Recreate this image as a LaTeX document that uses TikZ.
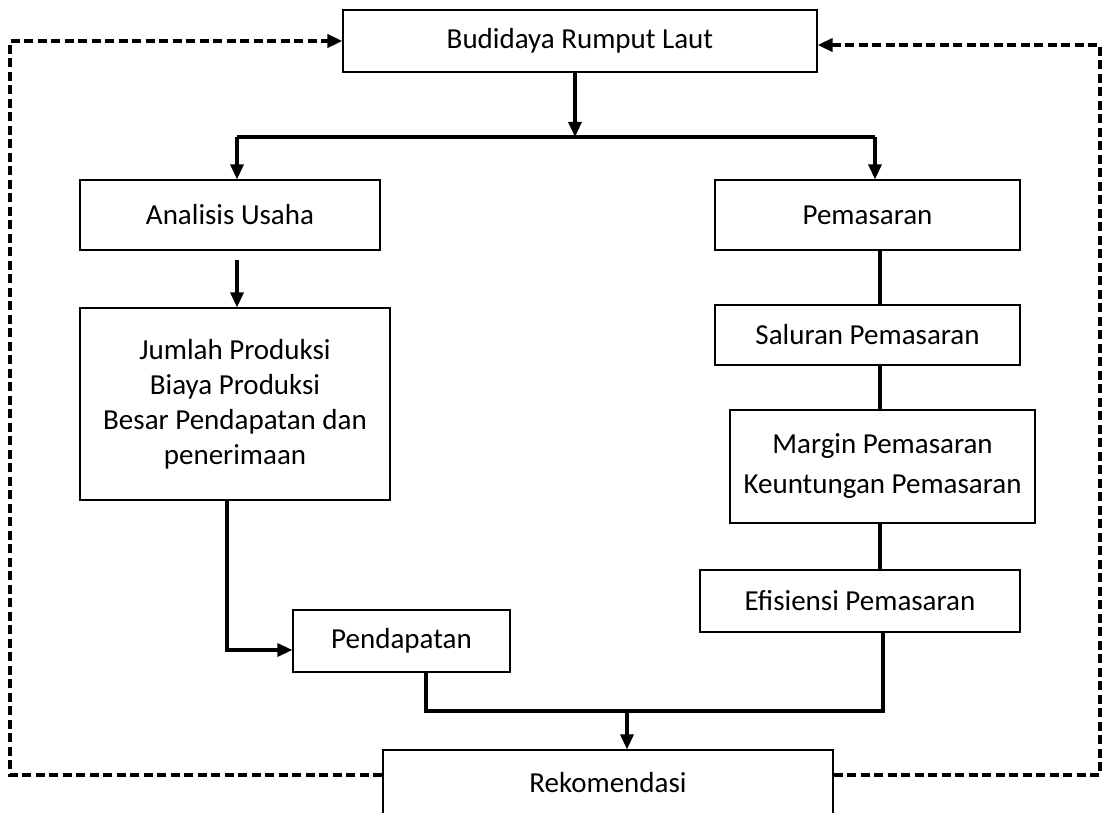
\documentclass[tikz,border=0pt]{standalone}
\usepackage{fontspec}
\setmainfont{Carlito}
\usetikzlibrary{arrows.meta}
\begin{document}
\begin{tikzpicture}[x=1pt,y=-1pt,
  box/.style={draw,line width=1.2pt,rectangle,align=center,inner sep=0pt,
    font=\fontsize{29}{35}\selectfont},
  conn/.style={line width=3.2pt},
  tip/.style={-{Triangle[length=15pt,width=13pt]}},
  feedback/.style={line width=3.6pt,dash pattern=on 9pt off 4.5pt}]
\useasboundingbox (0,0) rectangle (1108,813);
\clip (0,0) rectangle (1108,813);
\node[box,minimum width=474,minimum height=62] (bud) at (580,41) {Budidaya Rumput Laut};
\node[box,minimum width=300,minimum height=70] (ana) at (230,215) {Analisis Usaha};
\node[box,minimum width=305,minimum height=70] (pem) at (867.5,215) {Pemasaran};
\node[box,minimum width=310,minimum height=192] (jum) at (235,404) {Jumlah Produksi\\Biaya Produksi\\Besar Pendapatan dan\\penerimaan};
\node[box,minimum width=305,minimum height=60] (sal) at (867.5,335) {Saluran Pemasaran};
\node[box,minimum width=305,minimum height=113] (mar) at (882.5,466.5) {Margin Pemasaran\\[5pt]Keuntungan Pemasaran};
\node[box,minimum width=320,minimum height=62] (efi) at (860,601) {Efisiensi Pemasaran};
\node[box,minimum width=217,minimum height=62] (pen) at (401.5,641) {Pendapatan};
\node[box,minimum width=450,minimum height=80,text depth=0pt] (rek) at (608,790) {};
\node[font=\fontsize{29}{35}\selectfont] (rekt) at (608,783) {Rekomendasi};
% junctions
\coordinate (j1) at (575,137);
\coordinate (jl) at (237,137);
\coordinate (jr) at (875,137);
\coordinate (j2) at (227,650);
\coordinate (j3) at (627,711);
% top split
\draw[conn,tip] (bud.south -| j1) -- (j1);
\draw[conn] (jl) -- (jr);
\draw[conn,tip] (jl) -- (ana.north -| jl);
\draw[conn,tip] (jr) -- (pem.north -| jr);
% left column
\draw[conn,tip] (237,260) -- (jum.north -| 237,0);
\draw[conn,tip] (jum.south -| j2) -- (j2) -- (pen.west |- j2);
% right column
\draw[conn] (pem.south -| 880,0) -- (sal.north -| 880,0);
\draw[conn] (sal.south -| 880,0) -- (mar.north -| 880,0);
\draw[conn] (mar.south -| 880,0) -- (efi.north -| 880,0);
% bottom merge
\draw[conn] (pen.south -| 426,0) -- (426,711) -- (883,711) -- (efi.south -| 883,0);
\draw[conn,tip] (j3) -- (rek.north -| j3);
% feedback
\draw[feedback,tip] (rek.west |- 0,775) -- (10,775) -- (10,41) -- (bud.west);
\draw[feedback,tip] (rek.east |- 0,775) -- (1100,775) -- (1100,45) -- (bud.east |- 0,45);
\end{tikzpicture}
\end{document}
